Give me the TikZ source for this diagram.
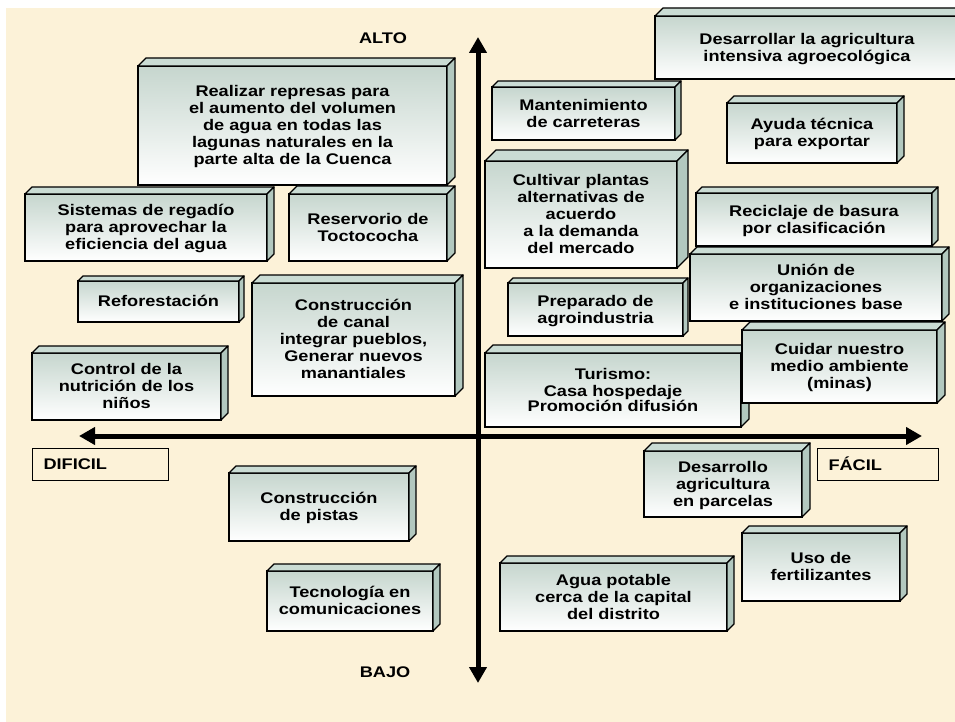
\documentclass[tikz,border=0pt]{standalone}
\usepackage{fontspec}
\setmainfont{Liberation Sans}
\usetikzlibrary{arrows.meta}
\definecolor{bg}{RGB}{252,242,216}
\definecolor{ftop}{RGB}{198,214,206}
\definecolor{topf}{RGB}{202,220,212}
\definecolor{sidef}{RGB}{178,200,191}
\newcommand\btx[1]{\raisebox{-2pt}[\height][\depth]{\scalebox{1.18}[1]{\begin{tabular}{@{}c@{}}#1\end{tabular}}}}
\newcommand\sclx[1]{\scalebox{1.18}[1]{#1}}
\tikzset{
  front/.style={draw=black, line width=1.3pt, top color=ftop, bottom color=white,
    inner sep=0pt, outer sep=0pt, font=\fontsize{15.4}{17}\selectfont\bfseries},
  facet/.style={draw=black, line width=1.3pt, line join=round},
  lbl/.style={font=\fontsize{15.4}{17}\selectfont\bfseries, inner sep=0pt},
  tagbox/.style={draw=black, line width=1pt, anchor=west, inner xsep=11pt, inner ysep=0pt,
    minimum height=32pt, align=left, font=\fontsize{15.4}{17}\selectfont\bfseries},
  axis/.style={line width=5pt, {Triangle[length=16pt,width=17pt]}-{Triangle[length=16pt,width=17pt]}}
}
% depth, name, x1, y1, x2, y2, text
\newcommand\cubox[7][7]{%
  \node[front, minimum width={#5pt-#3pt}, minimum height={#6pt-#4pt}] (#2) at ({(#3+#5)/2},{(#4+#6)/2}) {\btx{#7}};
  \filldraw[facet, fill=topf] (#2.north west) -- ++(#1,-#1) -- ++({#5-#3},0) -- (#2.north east) -- cycle;
  \filldraw[facet, fill=sidef] (#2.north east) -- ++(#1,-#1) -- ++(0,{#6-#4}) -- (#2.south east) -- cycle;
}
\begin{document}
\begin{tikzpicture}[x=1pt,y=-1pt]
\useasboundingbox (0,0) rectangle (955,722);
\begin{scope}
\clip (0,0) rectangle (955,722);
\fill[white] (0,0) rectangle (955,722);
\fill[bg] (6,8) rectangle (955,722);

% axes
\coordinate (vtop) at (478,37);
\coordinate (vbot) at (478,683);
\coordinate (hleft) at (79,436);
\coordinate (hright) at (922,436);
\draw[axis] (vbot) -- (vtop);
\draw[axis] (hleft) -- (hright);

\node[lbl] (alto) at (383,38) {\sclx{ALTO}};
\node[lbl] (bajo) at (385,672) {\sclx{BAJO}};
\node[tagbox, minimum width=136pt, text width=114pt] (dificil) at (32,464) {\sclx{DIFICIL}};
\node[tagbox, minimum width=121pt, text width=99pt] (facil) at (817,464) {\sclx{FÁCIL}};

% left-top quadrant
\cubox[8]{realizar}{138}{66}{447}{185}{Realizar represas para\\el aumento del volumen\\de agua en todas las\\lagunas naturales en la\\parte alta de la Cuenca}
\cubox[7]{sistemas}{25}{194}{267}{261}{Sistemas de regadío\\para aprovechar la\\eficiencia del agua}
\cubox[8]{reservorio}{289}{194}{447}{261}{Reservorio de\\Toctococha}
\cubox[5]{reforest}{78}{281}{239}{322}{Reforestación}
\cubox[8]{canal}{252}{283}{455}{396}{Construcción\\de canal\\integrar pueblos,\\Generar nuevos\\manantiales}
\cubox[7]{control}{32}{353}{221}{420}{Control de la\\nutrición de los\\niños}

% right-top quadrant
\cubox[8]{desarrollar}{655}{16}{959}{79}{Desarrollar la agricultura\\intensiva agroecológica}
\cubox[6]{manten}{492}{87}{675}{140}{Mantenimiento\\de carreteras}
\cubox[7]{ayuda}{727}{103}{897}{163}{Ayuda técnica\\para exportar}
\cubox[11]{cultivar}{485}{161}{677}{268}{Cultivar plantas\\alternativas de\\acuerdo\\a la demanda\\del mercado}
\cubox[6]{reciclaje}{696}{193}{932}{246}{Reciclaje de basura\\por clasificación}
\cubox[7]{union}{690}{254}{942}{321}{Unión de\\organizaciones\\e instituciones base}
\cubox[5]{preparado}{508}{283}{683}{336}{Preparado de\\agroindustria}
\cubox[8]{turismo}{485}{353}{741}{427}{Turismo:\\Casa hospedaje\\[-2pt]Promoción difusión}
\cubox[8]{cuidar}{742}{330}{937}{403}{Cuidar nuestro\\medio ambiente\\(minas)}

% bottom quadrants
\cubox[7]{pistas}{229}{473}{409}{541}{Construcción\\de pistas}
\cubox[7]{tecno}{267}{571}{433}{631}{Tecnología en\\comunicaciones}
\cubox[8]{desarrollo}{644}{451}{802}{517}{Desarrollo\\agricultura\\en parcelas}
\cubox[7]{uso}{742}{533}{900}{601}{Uso de\\fertilizantes}
\cubox[7]{agua}{500}{563}{727}{631}{Agua potable\\cerca de la capital\\del distrito}
\end{scope}
\end{tikzpicture}
\end{document}
